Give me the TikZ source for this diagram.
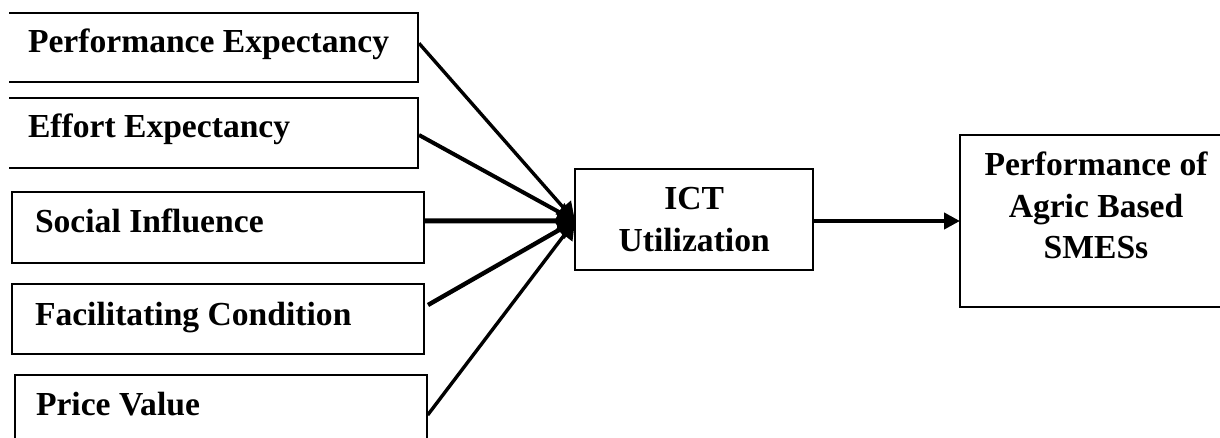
\documentclass[tikz,border=0pt]{standalone}
\usepackage{fontspec}
\setmainfont{Liberation Serif}
\usetikzlibrary{arrows.meta,calc}
\begin{document}
\begin{tikzpicture}[x=0.5pt,y=-0.5pt,
  txt/.style={inner sep=0pt, outer sep=0pt, font=\fontsize{16.8}{20.8}\selectfont\bfseries},
  boxnd/.style={draw=none, inner sep=0pt, outer sep=0pt},
  boxd/.style={draw=black, line width=1pt, inner sep=0pt, outer sep=0pt},
  border/.style={draw=black, line width=1pt},
  conn/.style={draw=black, -{Triangle[length=9pt,width=10pt]}},
  mainarrow/.style={draw=black, line width=2.4pt, -{Triangle[length=8pt,width=8pt]}}]
\useasboundingbox (0,0) rectangle (1220,438);
\fill[white] (0,0) rectangle (1220,438);

% left boxes
\node[boxnd, minimum width=204.5pt, minimum height=34.8pt] (b1) at (213.5,47.5) {};
\node[boxnd, minimum width=204.5pt, minimum height=35pt] (b2) at (213.5,133.3) {};
\node[boxd, minimum width=205.85pt, minimum height=35.1pt] (b3) at (218.15,227.6) {};
\node[boxd, minimum width=205.85pt, minimum height=35pt] (b4) at (218.15,319.3) {};
\node[boxd, minimum width=205.85pt, minimum height=35pt] (b5) at (220.85,409.5) {};
\draw[border] (b1.north west) -- (b1.north east) -- (b1.south east) -- (b1.south west);
\draw[border] (b2.north west) -- (b2.north east) -- (b2.south east) -- (b2.south west);

\node[txt, anchor=base west] (t1) at ($(b1.north west)+(19,39.6)$) {Performance Expectancy};
\node[txt, anchor=base west] (t2) at ($(b2.north west)+(19,39.7)$) {Effort Expectancy};
\node[txt, anchor=base west] (t3) at ($(b3.north west)+(22.7,39.8)$) {Social Influence};
\node[txt, anchor=base west] (t4) at ($(b4.north west)+(22.7,40.7)$) {Facilitating Condition};
\node[txt, anchor=base west] (t5) at ($(b5.north west)+(21,40.5)$) {Price Value};

% middle and right boxes
\node[boxd, txt, draw=black, line width=1pt, align=center, minimum width=119.15pt, minimum height=50.65pt] (ict) at (694.15,219.35) {ICT\\Utilization};
\node[boxd, minimum width=136pt, minimum height=86pt] (perf) at (1096,221) {};
\node[txt, align=center] (tp) at ($(perf.center)+(0,-15.6)$) {Performance of\\Agric Based\\SMESs};

% connectors
\coordinate (hub) at ($(ict.west)+(0,1.5)$);
\draw[conn, line width=1.7pt] ($(b1.east)+(1,-4.2)$) -- (hub);
\draw[conn, line width=2pt] ($(b2.east)+(1,1.7)$) -- (hub);
\draw[conn, line width=2.5pt] ($(b3.east)+(0,-6.6)$) -- (hub);
\draw[conn, line width=2.2pt] ($(b4.east)+(4,-14.3)$) -- (hub);
\draw[conn, line width=1.7pt] ($(b5.east)+(1,5.5)$) -- (hub);
\draw[mainarrow] (ict.east |- perf.west) -- (perf.west);
\end{tikzpicture}
\end{document}
